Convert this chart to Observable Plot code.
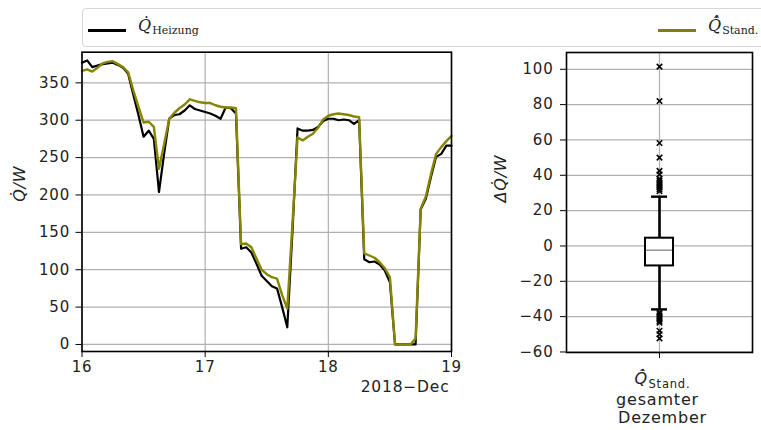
<!DOCTYPE html>
<html><head><meta charset="utf-8">
<script src="https://cdn.jsdelivr.net/npm/d3@7"></script>
<script src="https://cdn.jsdelivr.net/npm/@observablehq/plot@0.6"></script>
<style>
body{margin:0;background:#fff;}
#wrap{position:relative;width:761px;height:430px;overflow:hidden;font-family:"DejaVu Sans",sans-serif;}
#legend{position:absolute;left:82px;top:8px;width:700px;height:37px;border:1px solid #d6d6d6;border-radius:4px;background:#fff;z-index:2;}
.sw{position:absolute;height:2.6px;width:38px;top:20px;}
.lab{position:absolute;top:7px;font-family:"DejaVu Serif",serif;white-space:nowrap;color:#222;}
.lab .q{font-style:italic;font-size:16px;}
.lab sub{font-size:11px;vertical-align:-3px;margin-left:1px;}
#left{position:absolute;left:0;top:0;}
#right{position:absolute;left:460px;top:0;}
svg text{letter-spacing:0.8px;}
</style></head>
<body>
<div id="wrap">
  <div id="legend">
    <div class="sw" style="left:5px;background:#000"></div>
    <div class="lab" style="left:55px"><span class="q">Q&#x307;</span><sub>Heizung</sub></div>
    <div class="sw" style="left:575px;background:#808000"></div>
    <div class="lab" style="left:625px"><span class="q">Q&#x307;&#x302;</span><sub>Stand.</sub></div>
  </div>
  <div id="left"></div>
  <div id="right"></div>
</div>
<script>
// ---- data: hourly values, 16 Dec 2018 00:00 to 19 Dec 2018 00:00 ----
const startDate = new Date(Date.UTC(2018, 11, 16));
const endDate = new Date(Date.UTC(2018, 11, 19));
const dayTicks = [new Date(Date.UTC(2018,11,16)), new Date(Date.UTC(2018,11,17)), new Date(Date.UTC(2018,11,18)), new Date(Date.UTC(2018,11,19))];
const heizung = [377,380,371,373,375,376,377,374,370,362,334,307,278,286,275,204,255,302,307,308,313,320,315,313,
                 311,309,306,302,317,316,309,128,130,123,108,92,85,78,75,50,23,150,289,286,286,287,291,299,
                 302,302,300,301,300,295,300,114,110,111,107,99,83,0,0,0,0,0,181,195,224,251,255,266,266];
const standard = [366,368,365,370,376,378,379,375,371,364,340,318,297,298,291,235,268,302,310,316,321,328,326,324,
                  323,323,320,318,317,317,316,134,135,130,115,100,94,90,88,66,48,160,277,273,278,282,290,301,
                  306,308,309,308,307,305,304,122,119,116,110,102,90,0,0,0,0,8,182,198,228,255,264,272,279];
const yTicksLeft = [0,50,100,150,200,250,300,350];

// box plot of the deviation, whole December
const boxCat = ["Q̂̇Stand."];
const boxQ1 = -11.3, boxMedian = -2.4, boxQ3 = 4.4, whiskerLow = -35.9, whiskerHigh = 27.9;
const outliers = [31,32,33,34,35,36,37,38,40.5,42.5,50,58.3,82,101.5,-37.5,-38.5,-39.5,-40.5,-41.5,-42.5,-43.5,-48,-50,-52.3];
const yTicksRight = [-60,-40,-20,0,20,40,60,80,100];

const times = d3.utcHour.range(startDate, new Date(+endDate + 1));
const series = times.map((t, i) => ({t, heiz: heizung[i], stand: standard[i]}));

const gridStyle = {stroke: "#b0b0b0", strokeOpacity: 1, strokeWidth: 1.2};
const fmt = d3.format("");

const left = Plot.plot({
  width: 472, height: 430,
  marginLeft: 81.5, marginRight: 21, marginTop: 51.7, marginBottom: 79,
  style: {fontFamily: "DejaVu Sans", fontSize: "15px", color: "#222", background: "transparent"},
  x: {type: "utc", domain: [startDate, endDate]},
  y: {domain: [-9.4, 391]},
  marks: [
    Plot.gridX({ticks: dayTicks, ...gridStyle}),
    Plot.gridY({ticks: yTicksLeft, ...gridStyle}),
    Plot.line(series, {x: "t", y: "heiz", stroke: "#000", strokeWidth: 2.2}),
    Plot.line(series, {x: "t", y: "stand", stroke: "#858500", strokeWidth: 2.4}),
    Plot.frame({stroke: "#000", strokeWidth: 1.6}),
    Plot.axisX({ticks: dayTicks, tickFormat: d3.utcFormat("%-d"), tickSize: 6, tickPadding: 4, label: null, stroke: "#000"}),
    Plot.axisY({ticks: yTicksLeft, tickFormat: fmt, tickSize: 6, tickPadding: 6, label: null, stroke: "#000"}),
    Plot.text(["Q̇/W"], {frameAnchor: "left", dx: -62, rotate: -90, fontStyle: "italic", fontSize: 16, fill: "#222"}),
    Plot.text(["2018−Dec"], {frameAnchor: "bottom-right", dx: -2, dy: 40, textAnchor: "end", fontSize: 15.5, fill: "#222"})
  ]
});
document.getElementById("left").append(left);

const right = Plot.plot({
  width: 301, height: 430,
  marginLeft: 106, marginRight: 9, marginTop: 52, marginBottom: 78,
  style: {fontFamily: "DejaVu Sans", fontSize: "15px", color: "#222", background: "transparent"},
  x: {type: "band", domain: boxCat, padding: 0.738},
  y: {domain: [-60.3, 109.5]},
  marks: [
    Plot.gridX({...gridStyle}),
    Plot.gridY({ticks: yTicksRight, ...gridStyle}),
    Plot.ruleX(boxCat, {x: d => d, y1: whiskerLow, y2: whiskerHigh, stroke: "#000", strokeWidth: 2.6}),
    Plot.barY(boxCat, {x: d => d, y1: boxQ1, y2: boxQ3, fill: "#fff", stroke: "#000", strokeWidth: 2}),
    Plot.tickY(boxCat, {x: d => d, y: boxMedian, stroke: "#999", strokeWidth: 1.6, inset: 1}),
    Plot.tickY(boxCat, {x: d => d, y: whiskerHigh, stroke: "#000", strokeWidth: 2.4, inset: 6}),
    Plot.tickY(boxCat, {x: d => d, y: whiskerLow, stroke: "#000", strokeWidth: 2.4, inset: 6}),
    Plot.dot(outliers, {x: () => boxCat[0], y: d => d, symbol: "times", r: 2.6, stroke: "#000", strokeWidth: 1.5}),
    Plot.frame({stroke: "#000", strokeWidth: 1.6}),
    Plot.axisX({tickFormat: () => "", tickSize: 6, label: null, stroke: "#000"}),
    Plot.axisY({ticks: yTicksRight, tickFormat: fmt, tickSize: 6, tickPadding: 7, label: null, stroke: "#000"}),
    Plot.text(["ΔQ̇/W"], {frameAnchor: "left", dx: -66, rotate: -90, fontStyle: "italic", fontSize: 16, fill: "#222"}),
    Plot.text(boxCat, {x: d => d, text: () => "Q̂̇", frameAnchor: "bottom", dx: -25, dy: 31, textAnchor: "start", fontStyle: "italic", fontSize: 16, fill: "#222"}),
    Plot.text(boxCat, {x: d => d, text: () => "Stand.", frameAnchor: "bottom", dx: -11, dy: 35, textAnchor: "start", fontSize: 11.5, fill: "#222"}),
    Plot.text(["gesamter"], {x: () => boxCat[0], frameAnchor: "bottom", dx: -2, dy: 52, fontSize: 16, fill: "#222"}),
    Plot.text(["Dezember"], {x: () => boxCat[0], frameAnchor: "bottom", dx: 3, dy: 70, fontSize: 16, fill: "#222"})
  ]
});
document.getElementById("right").append(right);
</script>
</body></html>
